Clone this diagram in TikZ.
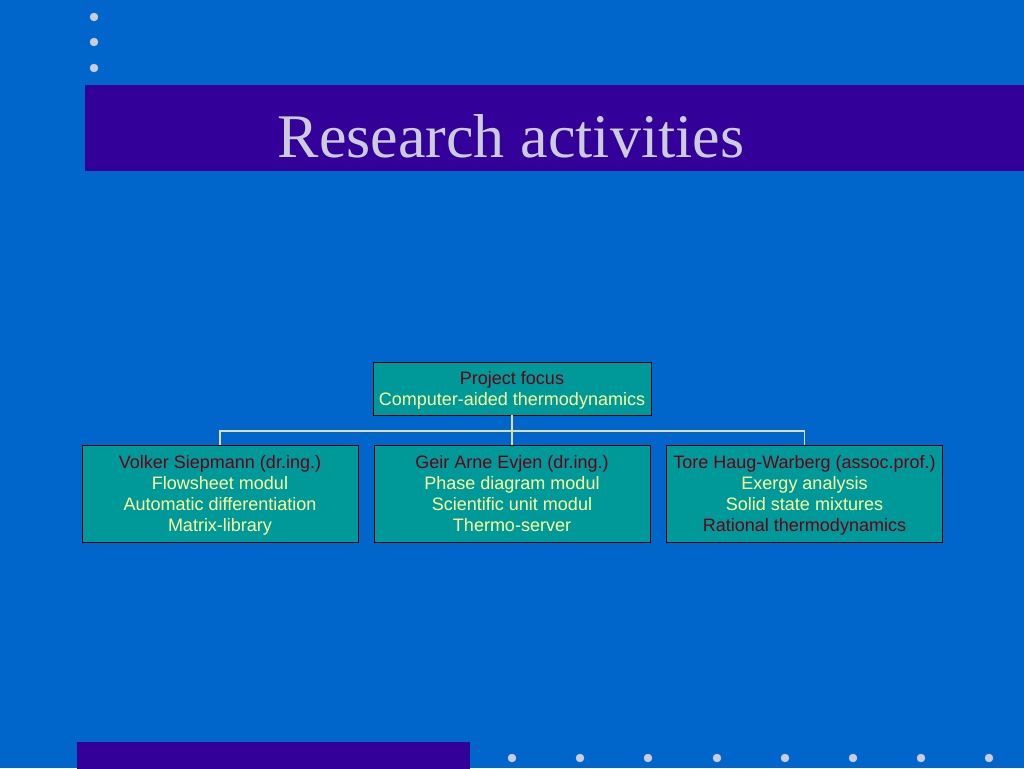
\documentclass[tikz,border=0pt]{standalone}
\usepackage{fontspec}
\setmainfont{Liberation Serif}
\newfontfamily\boxfont{Liberation Sans}
\usepackage{xcolor}
\definecolor{bg}{RGB}{0, 102, 204}
\definecolor{ban}{RGB}{51, 0, 153}
\definecolor{ttl}{RGB}{204, 204, 221}
\definecolor{box}{RGB}{0, 153, 153}
\definecolor{hd}{RGB}{110, 0, 20}
\definecolor{itm}{RGB}{255, 255, 153}
\definecolor{lin}{RGB}{221, 221, 170}
\definecolor{dot}{RGB}{204, 204, 221}
\newcommand\rowstrut{\rule[-4pt]{0pt}{21pt}}

\begin{document}
\begin{tikzpicture}[x=1pt, y=-1pt,
        unit/.style={draw=black, fill=box, line width=0.8pt, inner sep=0pt,
            minimum width=276pt, align=center, text=itm,
            font=\boxfont\fontsize{18}{21}\selectfont},
        link/.style={draw=lin, line width=1.2pt}]
        \fill[bg] (0, 0) rectangle (1024, 768);
        \useasboundingbox (0, 0) rectangle (1024, 768);
        \filldraw[color=ban, fill=ban] (85, 85) rectangle (1024, 170);
        \filldraw[color=ban, fill=ban] (77, 742) rectangle (469, 768);
        \filldraw[color=dot, fill=dot] (94, 17) circle (4);
        \filldraw[color=dot, fill=dot] (94, 42) circle (4);
        \filldraw[color=dot, fill=dot] (94, 68) circle (4);
        \filldraw[color=dot, fill=dot] (512, 758) circle (4);
        \filldraw[color=dot, fill=dot] (580, 758) circle (4);
        \filldraw[color=dot, fill=dot] (648, 758) circle (4);
        \filldraw[color=dot, fill=dot] (717, 758) circle (4);
        \filldraw[color=dot, fill=dot] (785, 758) circle (4);
        \filldraw[color=dot, fill=dot] (853, 758) circle (4);
        \filldraw[color=dot, fill=dot] (921, 758) circle (4);
        \filldraw[color=dot, fill=dot] (989, 758) circle (4);
        \node[anchor=base, text=ttl, font=\fontsize{62}{68}\selectfont] (title) at (511, 157) {Research activities};
        \node[unit, minimum width=278pt, minimum height=53pt] (focus) at (512, 388.5)
            {\rowstrut\textcolor{hd}{Project focus}\\\rowstrut Computer-aided thermodynamics};
        \node[unit, minimum height=97pt] (vs) at (220, 493.5)
            {\rowstrut\textcolor{hd}{Volker Siepmann (dr.ing.)}\\\rowstrut Flowsheet modul\\\rowstrut Automatic differentiation\\\rowstrut Matrix-library};
        \node[unit, minimum height=97pt] (gae) at (512, 493.5)
            {\rowstrut\textcolor{hd}{Geir Arne Evjen (dr.ing.)}\\\rowstrut Phase diagram modul\\\rowstrut Scientific unit modul\\\rowstrut Thermo-server};
        \node[unit, minimum height=97pt] (thw) at (804.5, 493.5)
            {\rowstrut\textcolor{hd}{Tore Haug-Warberg (assoc.prof.)}\\\rowstrut Exergy analysis\\\rowstrut Solid state mixtures\\\rowstrut\textcolor{hd}{Rational thermodynamics}};
        \coordinate (fork) at (512, 431);
        \draw[link] (focus.south) -- (gae.north);
        \draw[link] (vs.north) |- (fork) -| (thw.north);
    \end{tikzpicture}
\end{document}
